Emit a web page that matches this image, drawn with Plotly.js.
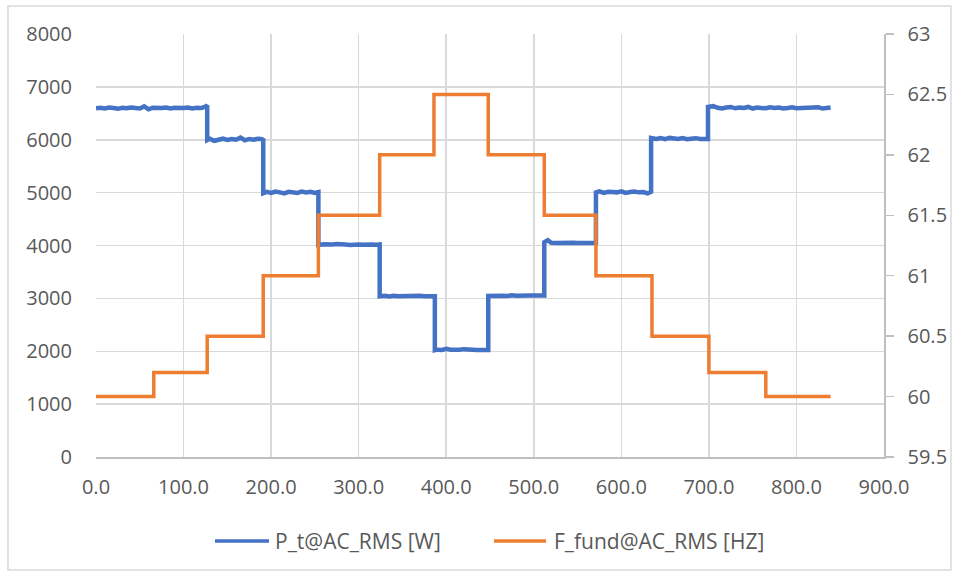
<!DOCTYPE html>
<html>
<head>
<meta charset="utf-8">
<script src="https://cdn.plot.ly/plotly-3.0.1.min.js"></script>
<style>
  html, body { margin: 0; padding: 0; background: #ffffff; }
  #chart { width: 956px; height: 575px; }
</style>
</head>
<body>
<div id="chart"></div>
<script>
// Total active power, sampled along the test (seconds / watts)
const powerTime = [
  0,5,10,15,20,25,30,35,40,45,50,55,60,65,70,75,80,85,90,95,100,105,110,115,120,125,127,
  127,130,135,140,145,150,155,160,165,170,175,180,185,190,191,
  191,195,200,205,210,215,220,225,230,235,240,245,250,254,
  254,260,265,270,275,280,285,290,295,300,305,310,315,320,324,
  324,330,335,340,345,350,355,360,365,370,375,380,385,387,
  387,390,395,400,405,410,415,420,425,430,435,440,445,448,
  448,455,460,465,470,475,480,485,490,495,500,505,510,512,
  512,516,520,525,530,535,540,545,550,555,560,565,570,571,
  571,575,580,585,590,595,600,605,610,615,620,625,630,634,
  634,640,645,650,655,660,665,670,675,680,685,690,695,699,
  699,705,710,715,720,725,730,735,740,745,750,755,760,765,770,775,780,785,790,795,800,805,810,815,820,825,830,835,839
];
const powerWatts = [
  6595,6605,6590,6610,6600,6585,6605,6595,6610,6600,6590,6630,6575,6605,6595,6600,6610,6590,6605,6595,6600,6610,6590,6605,6600,6625,6650,
  5995,6020,5980,6010,6020,5995,6015,6000,6040,5990,6015,6000,6020,6010,6025,
  4990,5015,4995,5020,5005,4985,5015,5010,4995,5020,5005,5015,4995,5010,
  4010,4025,4015,4020,4030,4015,4020,4010,4025,4020,4015,4025,4020,4015,4020,
  3040,3050,3035,3050,3040,3045,3050,3035,3040,3050,3040,3035,3050,3040,
  2020,2030,2025,2045,2030,2025,2030,2040,2025,2030,2025,2030,2040,2025,
  3045,3050,3060,3050,3045,3060,3050,3055,3045,3060,3050,3055,3060,3055,
  4060,4100,4050,4045,4050,4055,4045,4050,4045,4050,4055,4045,4050,4045,
  5005,5025,4995,5015,5010,5005,5025,4995,5010,5020,5005,5010,4985,5015,
  6035,6015,6030,6010,6035,6020,6015,6030,6010,6020,6030,6015,6020,6015,
  6620,6635,6605,6590,6610,6620,6595,6610,6600,6620,6590,6610,6600,6595,6615,6600,6610,6590,6600,6615,6595,6600,6610,6595,6600,6615,6590,6600,6610
];

// Fundamental frequency set-points (step changes)
const freqTime = [0, 66, 127, 191, 254, 324, 386, 448, 512, 571, 635, 700, 765, 839];
const freqHz   = [60, 60.2, 60.5, 61, 61.5, 62, 62.5, 62, 61.5, 61, 60.5, 60.2, 60, 60];

const xTicks = [0, 100, 200, 300, 400, 500, 600, 700, 800, 900];
const powerTicks = [0, 1000, 2000, 3000, 4000, 5000, 6000, 7000, 8000];
const freqTicks = [59.5, 60, 60.5, 61, 61.5, 62, 62.5, 63];

const seriesNames = ['P_t@AC_RMS [W]', 'F_fund@AC_RMS [HZ]'];
const seriesColors = ['#4472C4', '#ED7D31'];

const fontFamily = '"Open Sans", "Noto Sans", sans-serif';
const labelColor = '#595959';
const gridColor = '#d9d9d9';

const traces = [
  {
    x: powerTime, y: powerWatts, name: seriesNames[0],
    type: 'scatter', mode: 'lines', yaxis: 'y',
    line: { color: seriesColors[0], width: 4.5 }
  },
  {
    x: freqTime, y: freqHz, name: seriesNames[1],
    type: 'scatter', mode: 'lines', yaxis: 'y2',
    line: { color: seriesColors[1], width: 3.5, shape: 'hv' }
  }
];

// Legend drawn below the plot: a short line sample followed by the series name
const legendY = -0.1986;
const legendItems = [
  { x0: 0.1510, x1: 0.2195, tx: 0.2246 },
  { x0: 0.5051, x1: 0.5711, tx: 0.5787 }
];
const legendShapes = legendItems.map((it, i) => ({
  type: 'line', xref: 'paper', yref: 'paper',
  x0: it.x0, x1: it.x1, y0: legendY, y1: legendY,
  line: { color: seriesColors[i], width: 3.5 }
}));
const legendLabels = legendItems.map((it, i) => ({
  xref: 'paper', yref: 'paper', x: it.tx, y: legendY,
  xanchor: 'left', yanchor: 'middle', showarrow: false,
  text: seriesNames[i],
  font: { family: fontFamily, size: 21, color: labelColor }
}));

const layout = {
  width: 956, height: 575,
  margin: { l: 96, r: 72, t: 34, b: 118 },
  paper_bgcolor: '#ffffff', plot_bgcolor: '#ffffff',
  font: { family: fontFamily, size: 20, color: labelColor },
  showlegend: false,
  xaxis: {
    range: [0, 900], tickmode: 'array', tickvals: xTicks,
    ticktext: xTicks.map(v => v.toFixed(1)),
    showgrid: true, gridcolor: gridColor, gridwidth: 1.5,
    showline: true, linecolor: '#bfbfbf', linewidth: 1.5,
    ticks: 'outside', ticklen: 11, tickcolor: 'rgba(0,0,0,0)',
    zeroline: false
  },
  yaxis: {
    range: [0, 8000], tickmode: 'array', tickvals: powerTicks,
    showgrid: true, gridcolor: gridColor, gridwidth: 1.5,
    showline: false, zeroline: false,
    ticks: 'outside', ticklen: 19, tickcolor: 'rgba(0,0,0,0)'
  },
  yaxis2: {
    range: [59.5, 63], tickmode: 'array', tickvals: freqTicks,
    ticktext: freqTicks.map(v => String(v)),
    overlaying: 'y', side: 'right',
    showgrid: false, zeroline: false,
    showline: true, linecolor: '#bfbfbf', linewidth: 1.5,
    ticks: 'outside', ticklen: 8, tickcolor: '#bfbfbf', tickwidth: 1.5,
    ticklabelstandoff: 10
  },
  shapes: [
    {
      type: 'rect', xref: 'paper', yref: 'paper',
      x0: -0.1117, x1: 1.085, y0: -0.267, y1: 1.066,
      line: { color: gridColor, width: 1.5 }, fillcolor: 'rgba(0,0,0,0)', layer: 'below'
    }
  ].concat(legendShapes),
  annotations: legendLabels
};

Plotly.newPlot('chart', traces, layout, { displayModeBar: false, staticPlot: true });
</script>
</body>
</html>
